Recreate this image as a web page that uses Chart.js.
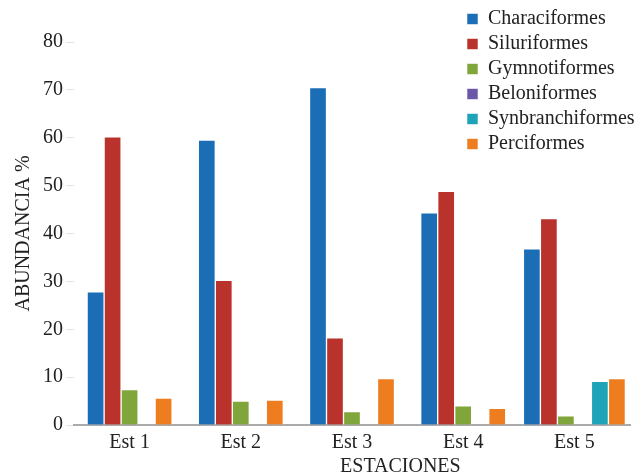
<!DOCTYPE html>
<html>
<head>
<meta charset="utf-8">
<script src="https://cdn.jsdelivr.net/npm/chart.js@4.4.1/dist/chart.umd.min.js"></script>
<style>
  html, body { margin: 0; padding: 0; background: #fff; }
  #wrap { width: 644px; height: 476px; }
</style>
</head>
<body>
<div id="wrap"><canvas id="myChart"></canvas></div>
<script>
const estaciones = ['Est 1', 'Est 2', 'Est 3', 'Est 4', 'Est 5'];
const characiformes = [27.8, 59.5, 70.5, 44.3, 36.8];
const siluriformes = [60.2, 30.2, 18.2, 48.8, 43.1];
const gymnotiformes = [7.4, 5.0, 2.8, 4.0, 1.9];
const beloniformes = [null, null, null, null, 0];
const synbranchiformes = [0, 0, 0, 0, 9.1];
const perciformes = [5.6, 5.2, 9.7, 3.5, 9.7];
const yTicks = [0, 10, 20, 30, 40, 50, 60, 70, 80];

const serif = "'Liberation Serif', 'DejaVu Serif', serif";

// legend sits inside the plot, top right
const legendRight = {
    id: 'legendRight',
    afterLayout(chart) {
        const lg = chart.legend;
        lg.left = chart.width - 182;
        lg.right = chart.width;
        lg.top = 4;
        lg.bottom = lg.top + lg.height;
    }
};

// x title is drawn a bit right of centre, like the original
const xTitle = {
    id: 'xTitle',
    afterDraw(chart) {
        const ctx = chart.ctx;
        const a = chart.chartArea;
        ctx.save();
        ctx.font = '20px ' + serif;
        ctx.fillStyle = '#222';
        ctx.textAlign = 'center';
        ctx.textBaseline = 'middle';
        ctx.fillText('ESTACIONES', a.left + a.width * 0.587, 467);
        ctx.restore();
    }
};

const grafico = document.getElementById('myChart');

function serie(label, data, color) {
    return {
        label: label,
        data: data,
        backgroundColor: color,
        borderColor: 'rgba(255,255,255,0.55)',
        borderWidth: 1,
        barThickness: 17
    };
}

const myChart = new Chart(grafico, {
    type: 'bar',
    data: {
        labels: estaciones,
        datasets: [
            serie('Characiformes', characiformes, '#1b6db5'),
            serie('Siluriformes', siluriformes, '#b9322c'),
            serie('Gymnotiformes', gymnotiformes, '#80a63b'),
            serie('Beloniformes', beloniformes, '#6a57a8'),
            serie('Synbranchiformes', synbranchiformes, '#1fa3b9'),
            serie('Perciformes', perciformes, '#ee7d20')
        ]
    },
    options: {
        responsive: true,
        maintainAspectRatio: false,
        animation: false,
        skipNull: true,
        layout: { padding: { left: 12, right: 14, top: 42, bottom: 23 } },
        plugins: {
            legend: {
                position: 'chartArea',
                align: 'start',
                labels: {
                    font: { family: serif, size: 20 },
                    color: '#222',
                    boxWidth: 11,
                    boxHeight: 11,
                    padding: 5
                }
            },
            tooltip: { enabled: false }
        },
        scales: {
            x: {
                grid: { display: false },
                border: { color: '#aaa', width: 2 },
                ticks: { font: { family: serif, size: 20, lineHeight: 1 }, color: '#222', padding: 0 }
            },
            y: {
                min: 0,
                max: 80,
                afterBuildTicks(axis) {
                    axis.ticks = yTicks.map(v => ({ value: v }));
                },
                grid: { drawOnChartArea: false, tickLength: 8, color: '#e4e4e4' },
                border: { display: false },
                ticks: { font: { family: serif, size: 20 }, color: '#222', padding: 3 },
                title: {
                    display: true,
                    text: 'ABUNDANCIA %',
                    font: { family: serif, size: 20 },
                    color: '#222',
                    padding: { top: 0, bottom: 4 }
                }
            }
        }
    },
    plugins: [legendRight, xTitle]
});
</script>
</body>
</html>
